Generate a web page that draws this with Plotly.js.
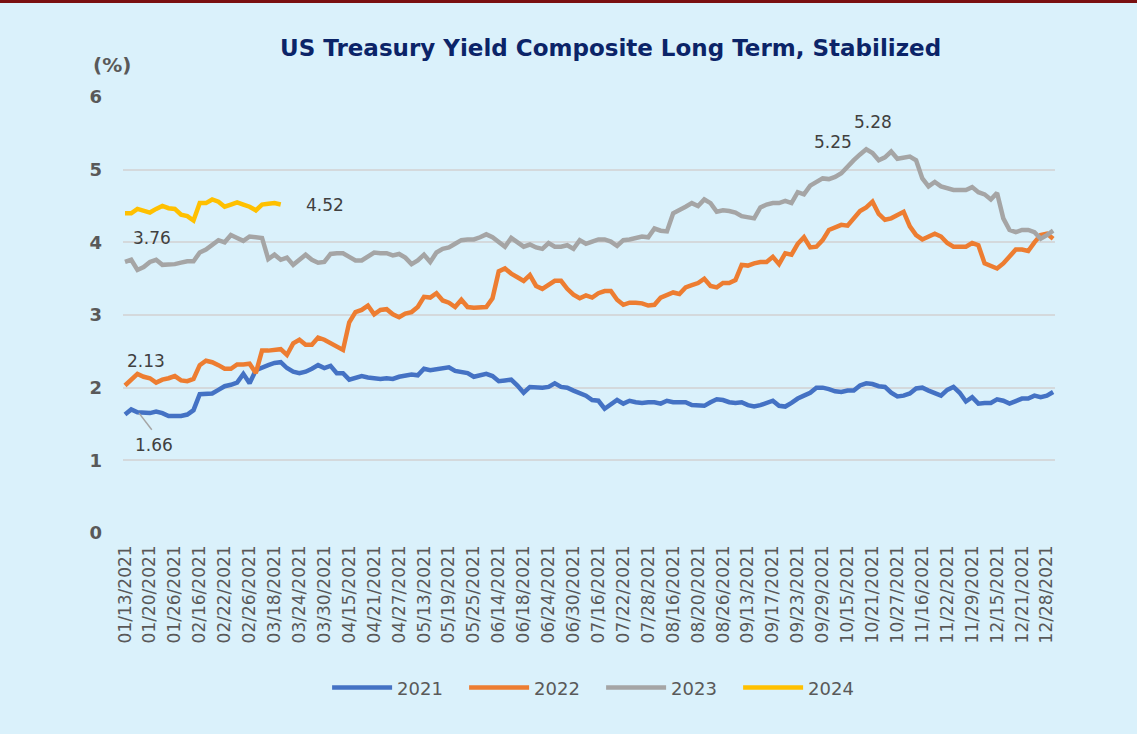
<!DOCTYPE html>
<html>
<head>
<meta charset="utf-8">
<script src="https://cdn.plot.ly/plotly-3.0.1.min.js"></script>
<style>
  html, body { margin: 0; padding: 0; background: #DAF1FB; }
  #topbar { position: absolute; left: 0; top: 0; width: 1137px; height: 3px; background: #7A1010; z-index: 5; }
  #chart { position: absolute; left: 0; top: 0; width: 1137px; height: 734px; }
</style>
</head>
<body>
<div id="topbar"></div>
<div id="chart"></div>
<script>
const tickLabels = ['01/13/2021','01/20/2021','01/26/2021','02/16/2021','02/22/2021','02/26/2021','03/18/2021','03/24/2021','03/30/2021','04/15/2021','04/21/2021','04/27/2021','05/13/2021','05/19/2021','05/25/2021','06/14/2021','06/18/2021','06/24/2021','06/30/2021','07/16/2021','07/22/2021','07/28/2021','08/16/2021','08/20/2021','08/26/2021','09/13/2021','09/17/2021','09/23/2021','09/29/2021','10/15/2021','10/21/2021','10/27/2021','11/16/2021','11/22/2021','11/29/2021','12/15/2021','12/21/2021','12/28/2021'];
const tickEvery = 4;

const y2021 = [1.63,1.70,1.66,1.65,1.65,1.67,1.65,1.61,1.61,1.61,1.63,1.69,1.91,1.91,1.92,1.97,2.02,2.04,2.07,2.19,2.06,2.24,2.28,2.31,2.34,
2.35,2.27,2.22,2.20,2.22,2.26,2.31,2.27,2.30,2.20,2.20,2.11,2.14,2.16,2.14,2.13,2.12,2.13,2.12,2.15,2.17,2.18,2.17,2.26,2.24,
2.25,2.26,2.28,2.23,2.22,2.20,2.15,2.17,2.19,2.16,2.09,2.10,2.11,2.03,1.93,2.01,2.00,2.00,2.01,2.06,2.01,2.00,1.96,1.93,1.89,
1.83,1.82,1.71,1.77,1.83,1.78,1.82,1.80,1.79,1.80,1.80,1.78,1.82,1.80,1.80,1.80,1.76,1.75,1.75,1.80,1.84,1.83,1.80,1.79,1.80,
1.76,1.74,1.76,1.79,1.82,1.75,1.74,1.79,1.85,1.89,1.93,2.00,2.00,1.98,1.95,1.94,1.96,1.96,2.03,2.06,2.05,2.02,2.01,1.93,1.88,
1.89,1.92,1.99,2.00,1.96,1.92,1.89,1.97,2.01,1.93,1.81,1.87,1.78,1.79,1.79,1.84,1.82,1.78,1.82,1.85,1.85,1.89,1.87,1.89,1.94];

const y2022 = [2.03,2.10,2.19,2.15,2.13,2.07,2.11,2.13,2.16,2.10,2.09,2.12,2.31,2.37,2.35,2.31,2.26,2.26,2.32,2.32,2.33,2.20,2.51,2.51,2.52,
2.53,2.45,2.61,2.66,2.59,2.59,2.69,2.66,2.61,2.56,2.52,2.90,3.04,3.07,3.13,3.01,3.07,3.08,3.01,2.97,3.02,3.04,3.11,3.25,3.24,
3.30,3.20,3.17,3.11,3.21,3.11,3.10,3.11,3.11,3.23,3.60,3.64,3.57,3.52,3.47,3.55,3.40,3.36,3.41,3.47,3.47,3.36,3.28,3.23,3.27,
3.24,3.30,3.33,3.33,3.21,3.14,3.17,3.17,3.16,3.13,3.14,3.24,3.27,3.31,3.29,3.38,3.41,3.44,3.50,3.40,3.38,3.44,3.44,3.48,3.69,
3.68,3.71,3.73,3.73,3.80,3.70,3.85,3.83,3.98,4.07,3.93,3.94,4.03,4.17,4.20,4.24,4.23,4.34,4.43,4.48,4.56,4.39,4.31,4.33,4.37,
4.42,4.22,4.10,4.04,4.08,4.12,4.08,3.99,3.94,3.94,3.94,3.99,3.96,3.71,3.68,3.64,3.71,3.80,3.90,3.90,3.88,4.00,4.10,4.12,4.05];

const y2023 = [3.73,3.76,3.62,3.66,3.73,3.76,3.69,3.69,3.70,3.72,3.74,3.74,3.86,3.90,3.96,4.03,4.00,4.10,4.06,4.02,4.08,4.07,4.06,3.77,3.83,
3.76,3.79,3.69,3.76,3.83,3.76,3.72,3.73,3.84,3.85,3.85,3.80,3.75,3.75,3.80,3.86,3.85,3.85,3.82,3.84,3.79,3.70,3.75,3.83,3.73,
3.86,3.91,3.93,3.98,4.03,4.04,4.04,4.07,4.11,4.07,4.00,3.94,4.06,4.00,3.94,3.97,3.93,3.91,3.99,3.94,3.94,3.96,3.91,4.03,3.98,
4.01,4.04,4.04,4.01,3.95,4.03,4.04,4.06,4.08,4.07,4.19,4.16,4.15,4.40,4.44,4.49,4.54,4.50,4.59,4.54,4.42,4.44,4.43,4.41,4.36,
4.35,4.33,4.48,4.52,4.54,4.54,4.57,4.54,4.69,4.66,4.78,4.83,4.88,4.87,4.90,4.95,5.05,5.13,5.21,5.28,5.23,5.13,5.17,5.25,5.15,
5.16,5.18,5.13,4.88,4.77,4.83,4.77,4.74,4.72,4.72,4.72,4.76,4.69,4.66,4.59,4.68,4.33,4.17,4.14,4.17,4.17,4.14,4.05,4.10,4.16];

const y2024 = [4.40,4.40,4.46,4.44,4.41,4.46,4.50,4.47,4.46,4.38,4.36,4.30,4.54,4.54,4.59,4.56,4.49,4.52,4.55,4.52,4.49,4.44,4.52,4.53,4.54,4.52];

const seriesNames = ['2021','2022','2023','2024'];
const seriesColors = ['#4472C4','#ED7D31','#A5A5A5','#FFC000'];
const seriesData = [y2021, y2022, y2023, y2024];

const traces = seriesData.map((ys, k) => ({
  type: 'scatter',
  mode: 'lines',
  name: seriesNames[k],
  x: ys.map((_, i) => i),
  y: ys,
  line: { color: seriesColors[k], width: 4.5 },
  hoverinfo: 'skip'
}));

const labelFont = { family: 'DejaVu Sans, Verdana, sans-serif', size: 17, color: '#404040' };

const layout = {
  width: 1137,
  height: 734,
  paper_bgcolor: '#DAF1FB',
  plot_bgcolor: '#DAF1FB',
  margin: { l: 123, r: 82, t: 97, b: 201 },
  showlegend: true,
  title: {
    text: '<b>US Treasury Yield Composite Long Term, Stabilized</b>',
    font: { family: 'DejaVu Sans, Verdana, sans-serif', size: 23, color: '#0B2468' },
    x: 0.537, xanchor: 'center', xref: 'container',
    y: 0.935, yanchor: 'middle', yref: 'container'
  },
  xaxis: {
    range: [-0.32, 149.3],
    tickmode: 'array',
    tickvals: tickLabels.map((_, k) => k * tickEvery),
    ticktext: tickLabels,
    tickangle: -90,
    tickfont: { family: 'DejaVu Sans, Verdana, sans-serif', size: 17, color: '#595959' },
    showgrid: false,
    zeroline: false,
    showline: false,
    ticks: '',
    ticklabelstandoff: 8
  },
  yaxis: {
    range: [0, 6],
    tickvals: [0, 1, 2, 3, 4, 5, 6],
    tickfont: { family: 'DejaVu Sans, Verdana, sans-serif', size: 18, color: '#595959', weight: 'bold' },
    showgrid: true,
    gridcolor: '#D4D9DC',
    gridwidth: 2,
    zeroline: false,
    showline: false,
    ticks: '',
    ticklabelstandoff: 20
  },
  legend: {
    orientation: 'h',
    x: 0.219, xanchor: 'left',
    y: -0.355, yanchor: 'middle',
    font: { family: 'DejaVu Sans, Verdana, sans-serif', size: 18, color: '#595959' },
    bgcolor: 'rgba(0,0,0,0)',
    itemwidth: 60,
    entrywidth: 62,
    entrywidthmode: 'pixels',
    traceorder: 'normal'
  },
  annotations: [
    { text: '<b>(%)</b>', xref: 'paper', yref: 'paper', x: -0.012, y: 1.073, xanchor: 'center', yanchor: 'middle', showarrow: false,
      font: { family: 'DejaVu Sans, Verdana, sans-serif', size: 20, color: '#595959' } },
    { text: '3.76', x: 4.3, y: 4.06, xref: 'x', yref: 'y', showarrow: false, font: labelFont },
    { text: '4.52', x: 32.1, y: 4.51, xref: 'x', yref: 'y', showarrow: false, font: labelFont },
    { text: '2.13', x: 3.4, y: 2.37, xref: 'x', yref: 'y', showarrow: false, font: labelFont },
    { text: '1.66', x: 4.65, y: 1.21, xref: 'x', yref: 'y', showarrow: false, font: labelFont },
    { text: '5.25', x: 113.6, y: 5.38, xref: 'x', yref: 'y', showarrow: false, font: labelFont },
    { text: '5.28', x: 120.1, y: 5.66, xref: 'x', yref: 'y', showarrow: false, font: labelFont }
  ],
  shapes: [
    { type: 'line', xref: 'x', yref: 'y', x0: 2.25, y0: 1.65, x1: 4.3, y1: 1.42, line: { color: '#A5A5A5', width: 1.5 } }
  ]
};

Plotly.newPlot('chart', traces, layout, { displayModeBar: false, staticPlot: true });
</script>
</body>
</html>
